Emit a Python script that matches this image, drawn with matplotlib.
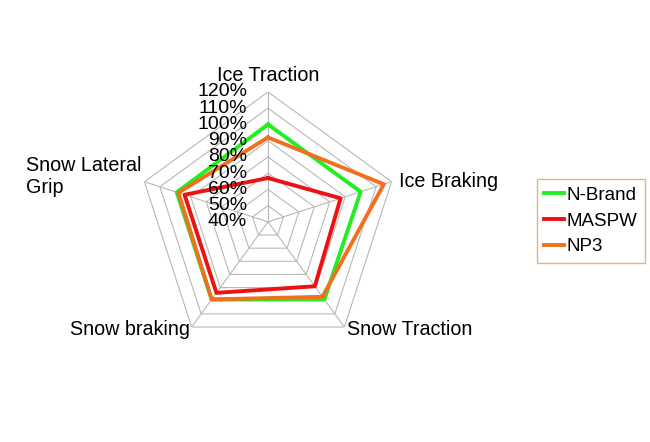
import numpy as np
import matplotlib
matplotlib.use("Agg")
import matplotlib.pyplot as plt

plt.rcParams['font.family'] = ['Liberation Sans', 'DejaVu Sans']

categories = ["Ice Traction", "Ice Braking", "Snow Traction", "Snow braking", "Snow Lateral\nGrip"]
n_brand = [100, 100, 99, 99, 99]
maspw = [67, 87, 89, 94, 94]
np3 = [92, 115, 97, 99, 98]
levels = [40, 50, 60, 70, 80, 90, 100, 110, 120]

series = [("N-Brand", n_brand, "#22ee22"),
          ("MASPW", maspw, "#ee1111"),
          ("NP3", np3, "#f07020")]

fig = plt.figure(figsize=(6.5, 4.42), dpi=100)
ax = fig.add_axes([0.2123, 0.204, 0.4, 0.588], polar=True)
ax.set_theta_offset(np.pi / 2)
ax.set_theta_direction(-1)
ax.set_ylim(40, 120)

angles = np.linspace(0, 2 * np.pi, len(categories), endpoint=False)
closed = np.append(angles, angles[0])

# pentagon grid and spokes
for lv in levels[1:]:
    ax.plot(closed, [lv] * len(closed), color="#b8b8b8", lw=0.8, zorder=1)
for a in angles:
    ax.plot([a, a], [40, 120], color="#b8b8b8", lw=0.8, zorder=1)

for name, vals, col in series:
    ax.plot(closed, vals + vals[:1], color=col, lw=2.8, label=name, zorder=3)

ax.grid(False)
ax.spines['polar'].set_visible(False)
ax.set_xticks([])
ax.set_yticks([])

# radial value labels along the top axis
for lv in levels:
    ax.annotate(f"{lv}%", xy=(0, lv), xytext=(-15, 0), textcoords="offset points",
                ha="right", va="center", fontsize=14, zorder=4)

# category labels
label_pos = [((0, 5), "center", "bottom"),
             ((5, 0), "left", "center"),
             ((2, -2), "left", "center"),
             ((-1, -2), "right", "center"),
             ((-2, 4), "right", "center")]
for a, cat, (off, ha, va) in zip(angles, categories, label_pos):
    ax.annotate(cat, xy=(a, 120), xytext=off, textcoords="offset points",
                ha=ha, va=va, fontsize=14.2, multialignment="left")

leg = fig.legend(loc="center left", bbox_to_anchor=(0.826, 0.5), fontsize=13.5,
                 frameon=True, fancybox=False, handlelength=1.05, handletextpad=0.15,
                 borderpad=0.4, labelspacing=0.45, borderaxespad=0)
leg.get_frame().set_edgecolor("#d9a070")
leg.get_frame().set_linewidth(1.0)

fig.savefig("out.png", dpi=100)
